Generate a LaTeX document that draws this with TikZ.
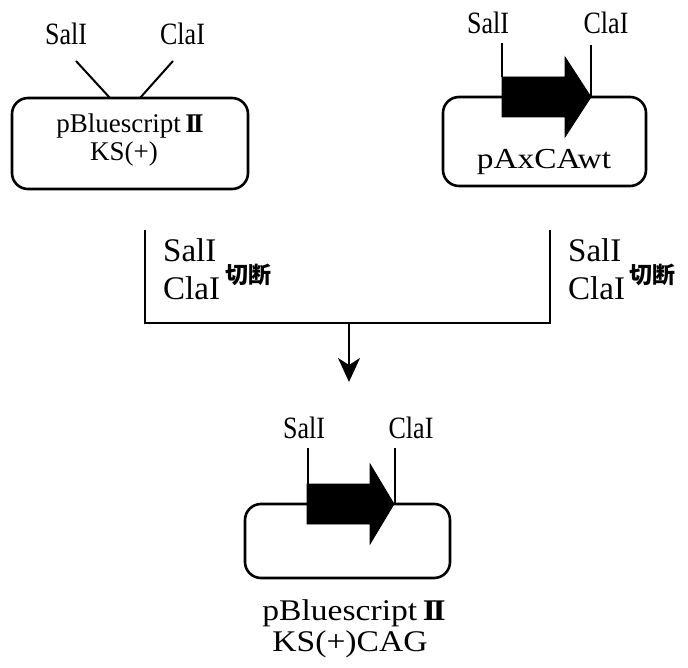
\documentclass[tikz,border=0pt]{standalone}
\usepackage{fontspec}
\setmainfont{Liberation Serif}
\newfontfamily\jpfont{Noto Sans CJK JP}
\usetikzlibrary{arrows.meta}
% Roman numeral two built from two bold capitals with touching serifs
\newcommand\romtwo{\textbf{I\kern-0.1em I}}
\newcommand\sitelabel[1]{\fontsize{31}{31}\selectfont\scalebox{0.84}[1]{#1}}
\tikzset{
  plasmid/.style={draw, line width=2.6pt, rounded corners=16pt, inner sep=0pt},
  cutline/.style={line width=2pt},
  txt/.style={inner sep=0pt, anchor=base},
  cuttxt/.style={inner sep=0pt, anchor=west, font=\jpfont\bfseries\fontsize{23}{23}\selectfont},
  fragment/.style={fill=black, draw=black, line width=0.8pt, line join=miter},
}
\begin{document}
\begin{tikzpicture}[x=1pt, y=-1pt]
\useasboundingbox (0,0) rectangle (688,668);

% ---------- vector pBluescript II KS(+) ----------
\node[plasmid, minimum width=236pt, minimum height=91pt] (vecA) at (130,143.5) {};
\node[txt] (salA) at (66,45) {\sitelabel{SalI}};
\node[txt] (claA) at (182.5,45) {\sitelabel{ClaI}};
\coordinate (salAtop) at (76,61);
\coordinate (claAtop) at (173,61);
\coordinate (salAbot) at (110,98);
\coordinate (claAbot) at (140,98);
\draw[cutline] (salAtop) -- (salAbot);
\draw[cutline] (claAtop) -- (claAbot);
\node[txt] (nameA1) at (130,133) {\fontsize{27}{27}\selectfont pBluescript\,\romtwo};
\node[txt] (nameA2) at (124,161) {\fontsize{27}{27}\selectfont KS(+)};

% ---------- plasmid pAxCAwt with insert ----------
\node[plasmid, minimum width=203pt, minimum height=89pt] (vecB) at (544.5,141.5) {};
\node[txt] (salB) at (488,34) {\sitelabel{SalI}};
\node[txt] (claB) at (606,34) {\sitelabel{ClaI}};
\fill[fragment] (502,77) -- (565,77) -- (565,57) -- (591,97) -- (565,137) -- (565,117) -- (502,117) -- cycle;
\coordinate (salBtop) at (502,43);
\coordinate (salBbot) at (502,77);
\coordinate (claBtop) at (591,45);
\coordinate (claBbot) at (591,97);
\draw[cutline] (salBtop) -- (salBbot);
\draw[cutline] (claBtop) -- (claBbot);
\node[txt] (nameB) at (544,169) {\fontsize{29}{29}\selectfont\scalebox{1.15}[1]{pAxCAwt}};

% ---------- digestion and ligation bracket ----------
\coordinate (brL) at (145,230);
\coordinate (brR) at (550,230);
\coordinate (join) at (349,323);
\coordinate (goal) at (349,382);
\draw[cutline] (brL) |- (join) -| (brR);
\draw[cutline, -{Stealth[length=24pt, width=22pt, inset=7pt]}] (join) -- (goal);

\node[txt, anchor=base west] (digL1) at (163,262) {\fontsize{33}{33}\selectfont SalI};
\node[txt, anchor=base west] (digL2) at (163,300) {\fontsize{33}{33}\selectfont ClaI};
\node[cuttxt] (cutL) at (225,275) {切断};
\node[txt, anchor=base west] (digR1) at (568,262) {\fontsize{33}{33}\selectfont SalI};
\node[txt, anchor=base west] (digR2) at (568,300) {\fontsize{33}{33}\selectfont ClaI};
\node[cuttxt] (cutR) at (629,275) {切断};

% ---------- product pBluescript II KS(+)CAG ----------
\node[plasmid, minimum width=205pt, minimum height=74pt] (vecC) at (347.5,541) {};
\node[txt] (salC) at (304,438) {\sitelabel{SalI}};
\node[txt] (claC) at (411,438) {\sitelabel{ClaI}};
\fill[fragment] (307,484) -- (370,484) -- (370,464) -- (394,504) -- (370,544) -- (370,524) -- (307,524) -- cycle;
\coordinate (salCtop) at (308,448);
\coordinate (salCbot) at (308,484);
\coordinate (claCtop) at (395,448);
\coordinate (claCbot) at (395,504);
\draw[cutline] (salCtop) -- (salCbot);
\draw[cutline] (claCtop) -- (claCbot);
\node[txt] (nameC1) at (354,620) {\fontsize{30}{30}\selectfont\scalebox{1.12}[1]{pBluescript\,\romtwo}};
\node[txt] (nameC2) at (350,651) {\fontsize{30}{30}\selectfont\scalebox{1.12}[1]{KS(+)CAG}};
\end{tikzpicture}
\end{document}
